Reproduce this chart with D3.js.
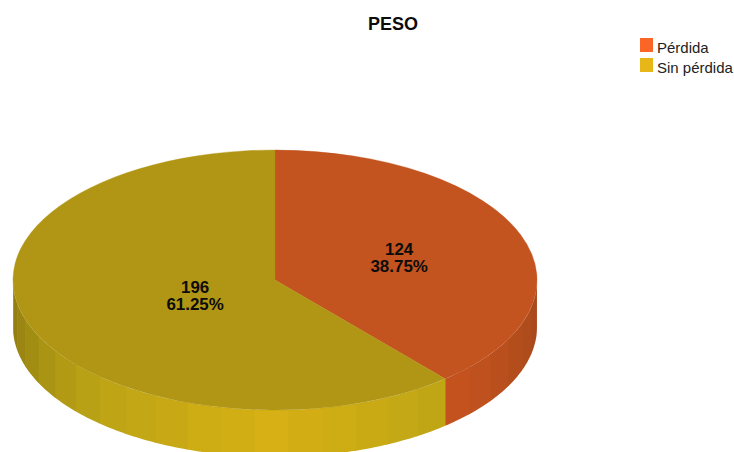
<!DOCTYPE html>
<html>
<head>
<meta charset="utf-8">
<script src="https://cdn.jsdelivr.net/npm/d3@7/dist/d3.min.js"></script>
<style>
  html, body { margin: 0; padding: 0; background: #fff; }
  svg { display: block; font-family: "Liberation Sans", Arial, sans-serif; }
</style>
</head>
<body>
<div id="chart"></div>
<script>
// Weight-loss split
const chartTitle = "PESO";
const categories = ["Pérdida", "Sin pérdida"];
const values = [124, 196];
const percentLabels = ["38.75%", "61.25%"];

const legendColors = ["#fb6526", "#e6b717"];
const topColors = ["#c3531f", "#b09614"];
// Rim shading: colour by angular distance from the front of the disc
const rimColors = [
  ["#cf5a20", "#c4531e", "#a5481b"],
  ["#d6b014", "#bda415", "#8c7a12"]
];
const rimStops = [0, 42, 90];
// How far out along its radius each label sits
const labelRadius = [0.505, 0.325];

const width = 734, height = 452;
const cx = 275, cy = 280, rx = 262, ry = 130, depth = 47;
const facetStep = 7.5 * Math.PI / 180;

const svg = d3.select("#chart").append("svg")
  .attr("width", width).attr("height", height);

const pie = d3.pie().sort(null)(values);
const arc = d3.arc().innerRadius(0).outerRadius(rx);

const px = a => cx + rx * Math.sin(a);
const py = a => cy - ry * Math.cos(a);

// Facets of the rim are laid out from the shared boundary between the slices
const boundary = pie[0].endAngle;
const visible = [Math.PI / 2, 3 * Math.PI / 2];

function facets(start, end) {
  const out = [];
  const k0 = Math.floor((start - boundary) / facetStep);
  const k1 = Math.ceil((end - boundary) / facetStep);
  for (let k = k0; k < k1; k++) {
    const a = Math.max(start, boundary + k * facetStep);
    const b = Math.min(end, boundary + (k + 1) * facetStep);
    if (b > a) out.push([a, b]);
  }
  return out;
}

const line = d3.line().x(d => d[0]).y(d => d[1]);
const rim = svg.append("g");

pie.forEach((slice, i) => {
  const start = Math.max(slice.startAngle, visible[0]);
  const end = Math.min(slice.endAngle, visible[1]);
  const shade = d3.scaleLinear().domain(rimStops).range(rimColors[i]).clamp(true);
  facets(start, end).forEach(([a, b], j, all) => {
    // Each facet runs slightly under its neighbour so no white shows at the seams
    const overlap = j < all.length - 1 ? 0.006 : 0;
    const b2 = b + overlap;
    const arcPts = d3.range(0, 1.0001, 0.125).map(t => a + (b2 - a) * t);
    const upper = arcPts.map(t => [px(t), py(t)]);
    const lower = arcPts.slice().reverse().map(t => [px(t), py(t) + depth]);
    const off = Math.abs((a + b) / 2 - Math.PI) * 180 / Math.PI;
    rim.append("path")
      .attr("d", line(upper.concat(lower)) + "Z")
      .attr("fill", shade(off));
  });
});

// Top face: a circular pie squashed into an ellipse
svg.append("g")
  .attr("transform", `translate(${cx},${cy}) scale(1,${ry / rx})`)
  .selectAll("path").data(pie).join("path")
  .attr("d", arc)
  .attr("fill", (d, i) => topColors[i])
  .attr("stroke", (d, i) => topColors[i])
  .attr("stroke-width", 0.5);

// Slice labels: two stacked lines, drawn a little wide
function sliceLine(x, y, str) {
  svg.append("text")
    .attr("transform", `translate(${x},${y}) scale(1.06,1)`)
    .attr("text-anchor", "middle")
    .attr("font-size", 16).attr("font-weight", "bold")
    .attr("fill", "#0c0c0c")
    .text(str);
}
pie.forEach((slice, i) => {
  const mid = (slice.startAngle + slice.endAngle) / 2;
  const x = cx + labelRadius[i] * rx * Math.sin(mid);
  const y = cy - labelRadius[i] * ry * Math.cos(mid);
  sliceLine(x, y - 2, values[i]);
  sliceLine(x, y + 15, percentLabels[i]);
});

svg.append("text")
  .attr("x", 393).attr("y", 30)
  .attr("text-anchor", "middle")
  .attr("font-size", 18).attr("font-weight", "bold").attr("fill", "#0c0c0c")
  .text(chartTitle);

// Legend
const legendY = d3.scalePoint().domain(categories).range([38, 58]);
const legend = svg.append("g").selectAll("g").data(categories).join("g")
  .attr("transform", d => `translate(640,${legendY(d)})`);
legend.append("rect")
  .attr("width", 13).attr("height", 14)
  .attr("fill", (d, i) => legendColors[i]);
legend.append("text")
  .attr("x", 17).attr("y", 15)
  .attr("font-size", 15).attr("fill", "#222")
  .text(d => d);
</script>
</body>
</html>
